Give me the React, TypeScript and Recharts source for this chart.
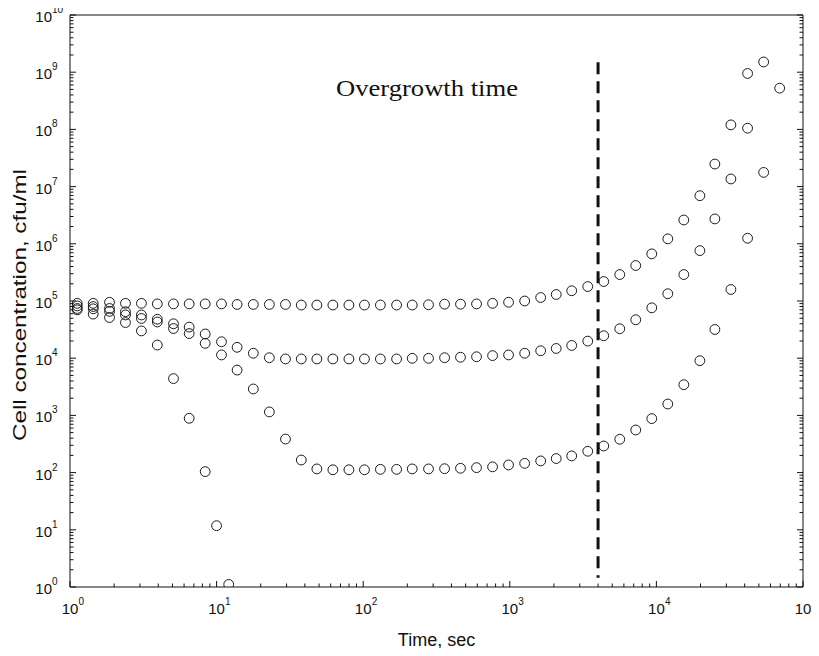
import { ScatterChart, Scatter, XAxis, YAxis, ReferenceLine } from 'recharts'

// sampling times (sec) shared by the three long runs
const TIME = [
  1.12, 1.44, 1.86, 2.39, 3.07, 3.94, 5.08, 6.5, 8.36, 10.8, 13.8, 17.8, 22.9, 29.5, 37.8,
  48.3, 62.1, 79.9, 102, 131, 169, 216, 279, 359, 461, 593, 763, 981, 1263, 1624,
  2073, 2644, 3402, 4374, 5624, 7231, 9301, 11960, 15380, 19790, 25050, 32220, 41880, 53910, 69320,
]

const SERIES_A = [
  9.1e4, 9.1e4, 9.5e4, 9.1e4, 9.1e4, 8.9e4, 8.9e4, 8.9e4, 8.9e4, 8.9e4, 8.7e4, 8.7e4, 8.7e4, 8.7e4, 8.5e4,
  8.5e4, 8.5e4, 8.5e4, 8.5e4, 8.5e4, 8.5e4, 8.5e4, 8.6e4, 8.8e4, 8.8e4, 8.9e4, 9.1e4, 9.5e4, 1.0e5, 1.15e5,
  1.3e5, 1.51e5, 1.79e5, 2.19e5, 2.9e5, 4.17e5, 6.67e5, 1.22e6, 2.61e6, 6.93e6, 2.48e7, 1.2e8, 9.5e8, 1.51e9, 5.26e8,
]

const SERIES_B = [
  8.2e4, 8.0e4, 7.4e4, 6.5e4, 5.7e4, 4.8e4, 4.0e4, 3.5e4, 2.65e4, 1.94e4, 1.55e4, 1.22e4, 1.02e4, 9.7e3, 9.7e3,
  9.7e3, 9.7e3, 9.7e3, 9.7e3, 9.7e3, 9.7e3, 9.95e3, 9.95e3, 1.02e4, 1.04e4, 1.06e4, 1.11e4, 1.14e4, 1.22e4, 1.35e4,
  1.48e4, 1.67e4, 1.99e4, 2.47e4, 3.27e4, 4.7e4, 7.6e4, 1.34e5, 2.9e5, 7.6e5, 2.72e6, 1.36e7, 1.05e8,
]

const SERIES_C = [
  7.4e4, 7.3e4, 6.6e4, 5.7e4, 4.95e4, 4.3e4, 3.3e4, 2.7e4, 1.82e4, 1.14e4, 6.2e3, 2.9e3, 1.15e3, 386, 166,
  116, 112, 112, 112, 114, 114, 116, 116, 117, 119, 122, 126, 136, 145, 160,
  176, 196, 236, 292, 383, 556, 879, 1580, 3440, 9040, 3.18e4, 1.59e5, 1.25e6, 1.77e7,
]

// the run that dies off
const D_TIME = [1.12, 1.44, 1.86, 2.39, 3.07, 3.94, 5.08, 6.5, 8.36, 10.0, 12.1]
const SERIES_D = [7.0e4, 5.9e4, 5.15e4, 4.2e4, 3.0e4, 1.7e4, 4.4e3, 890, 104, 11.8, 1.11]

const OVERGROWTH_TIME = 4000
const OVERGROWTH_SPAN = [1.5e9, 1.45]

const X_DECADES = [0, 1, 2, 3, 4, 5]
const Y_DECADES = [0, 1, 2, 3, 4, 5, 6, 7, 8, 9, 10]
const MINOR_STEPS = [2, 3, 4, 5, 6, 7, 8, 9]

const FONT = '"Liberation Sans", Arial, Helvetica, sans-serif'

function logTicks(decades: number[]) {
  const out: number[] = []
  decades.forEach((d, i) => {
    out.push(Math.pow(10, d))
    if (i < decades.length - 1) MINOR_STEPS.forEach((m) => out.push(m * Math.pow(10, d)))
  })
  return out
}

const X_TICKS = logTicks(X_DECADES)
const Y_TICKS = logTicks(Y_DECADES)
const MAJOR = new Set([...X_DECADES, ...Y_DECADES].map((d) => Math.pow(10, d)))

const toPoints = (xs: number[], ys: number[]) => ys.map((y, i) => ({ x: xs[i], y }))

type Side = 'bottom' | 'top' | 'left' | 'right'

function renderTick(p: any, side: Side) {
  const { x, y, payload } = p
  const v = payload.value as number
  const major = MAJOR.has(v)
  const len = major ? 6 : 3.5
  const exp = String(Math.round(Math.log10(v)))
  let line
  if (side === 'bottom') line = <line x1={x} y1={y} x2={x} y2={y - len} />
  else if (side === 'top') line = <line x1={x} y1={y} x2={x} y2={y + len} />
  else if (side === 'left') line = <line x1={x} y1={y} x2={x + len} y2={y} />
  else line = <line x1={x} y1={y} x2={x - len} y2={y} />

  let label = null
  if (major && side === 'bottom') {
    label = (
      <g fontFamily={FONT} fill="#111" stroke="none">
        <text x={x} y={y + 27} fontSize={15} textAnchor="middle">10</text>
        <text x={x + 8.5} y={y + 18} fontSize={10}>{exp}</text>
      </g>
    )
  } else if (major && side === 'left') {
    label = (
      <g fontFamily={FONT} fill="#111" stroke="none">
        <text x={x - 18} y={y + 7} fontSize={15} textAnchor="end">10</text>
        <text x={x - 18} y={y - 2} fontSize={10}>{exp}</text>
      </g>
    )
  }
  return (
    <g stroke="#111" strokeWidth={1}>
      {line}
      {label}
    </g>
  )
}

const OpenCircle = (p: any) => (
  <circle cx={p.cx} cy={p.cy} r={4.9} fill="none" stroke="#1a1a1a" strokeWidth={1} />
)

export default function App() {
  const seriesA = toPoints(TIME, SERIES_A)
  const seriesB = toPoints(TIME, SERIES_B)
  const seriesC = toPoints(TIME, SERIES_C)
  const seriesD = toPoints(D_TIME, SERIES_D)

  const axisLine = { stroke: '#111', strokeWidth: 1 }

  return (
    <div style={{ position: 'relative', width: 811, height: 640, background: '#fff' }}>
      <style>{'.recharts-surface, .recharts-wrapper { overflow: visible !important; }'}</style>
      <ScatterChart width={811} height={640} margin={{ top: 6, right: 15, bottom: 1, left: 0 }}>
        <XAxis
          dataKey="x"
          type="number"
          scale="log"
          domain={[1, 100000]}
          allowDataOverflow
          ticks={X_TICKS}
          interval={0}
          tickSize={0}
          tickMargin={0}
          tickLine={false}
          axisLine={axisLine}
          height={60}
          tick={(p: any) => renderTick(p, 'bottom')}
        />
        <XAxis
          xAxisId="top"
          orientation="top"
          type="number"
          scale="log"
          domain={[1, 100000]}
          allowDataOverflow
          ticks={X_TICKS}
          interval={0}
          tickSize={0}
          tickMargin={0}
          tickLine={false}
          axisLine={axisLine}
          height={1}
          tick={(p: any) => renderTick(p, 'top')}
        />
        <YAxis
          dataKey="y"
          type="number"
          scale="log"
          domain={[1, 1e10]}
          allowDataOverflow
          ticks={Y_TICKS}
          interval={0}
          tickSize={0}
          tickMargin={0}
          tickLine={false}
          axisLine={axisLine}
          width={62}
          tick={(p: any) => renderTick(p, 'left')}
        />
        <YAxis
          yAxisId="right"
          orientation="right"
          type="number"
          scale="log"
          domain={[1, 1e10]}
          allowDataOverflow
          ticks={Y_TICKS}
          interval={0}
          tickSize={0}
          tickMargin={0}
          tickLine={false}
          axisLine={axisLine}
          width={1}
          tick={(p: any) => renderTick(p, 'right')}
        />
        <ReferenceLine
          segment={[
            { x: OVERGROWTH_TIME, y: OVERGROWTH_SPAN[0] },
            { x: OVERGROWTH_TIME, y: OVERGROWTH_SPAN[1] },
          ]}
          stroke="#111"
          strokeWidth={3}
          strokeDasharray="12 7"
          ifOverflow="visible"
        />
        <Scatter data={seriesA} dataKey="y" shape={OpenCircle} isAnimationActive={false} />
        <Scatter data={seriesB} dataKey="y" shape={OpenCircle} isAnimationActive={false} />
        <Scatter data={seriesC} dataKey="y" shape={OpenCircle} isAnimationActive={false} />
        <Scatter data={seriesD} dataKey="y" shape={OpenCircle} isAnimationActive={false} />
      </ScatterChart>
      <svg
        width={811}
        height={640}
        style={{ position: 'absolute', left: 0, top: 0, pointerEvents: 'none', overflow: 'visible' }}
      >
        <text
          x={11}
          y={297}
          transform="rotate(-90 11 297)"
          textAnchor="middle"
          dominantBaseline="central"
          fontFamily={FONT}
          fontSize={19}
          textLength={272}
          lengthAdjust="spacingAndGlyphs"
          fill="#111"
        >
          Cell concentration, cfu/ml
        </text>
        <text
          x={428.5}
          y={632}
          textAnchor="middle"
          dominantBaseline="central"
          fontFamily={FONT}
          fontSize={18}
          fill="#111"
        >
          Time, sec
        </text>
        <text
          x={419}
          y={80}
          textAnchor="middle"
          dominantBaseline="central"
          fontFamily='"Liberation Serif", "Times New Roman", serif'
          fontSize={24}
          textLength={182}
          lengthAdjust="spacingAndGlyphs"
          fill="#111"
        >
          Overgrowth time
        </text>
      </svg>
    </div>
  )
}
